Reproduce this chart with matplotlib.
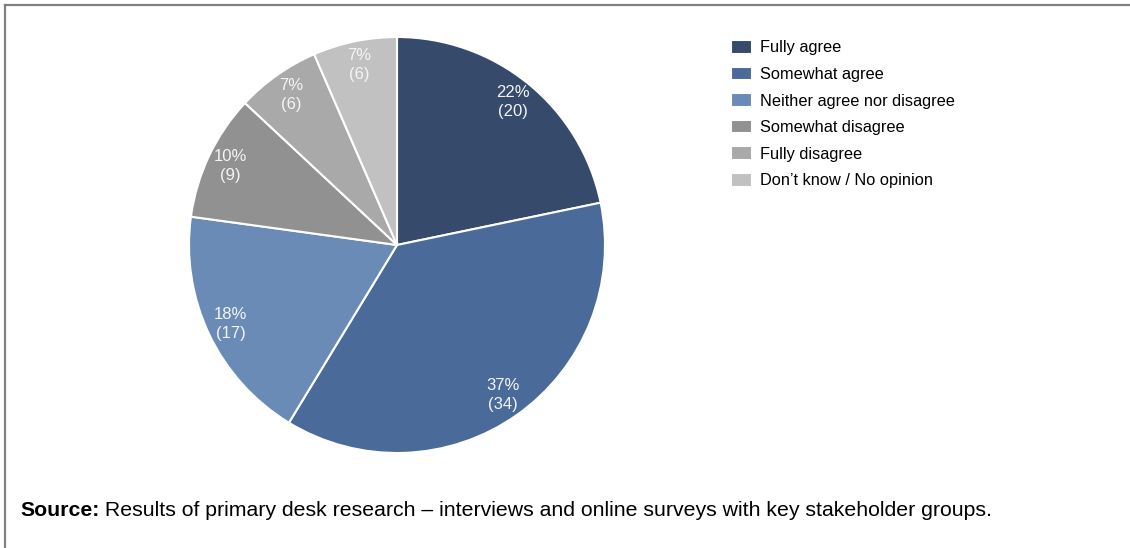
import matplotlib
matplotlib.use("Agg")
import matplotlib.pyplot as plt
from matplotlib.lines import Line2D

plt.rcParams['font.family'] = ['Liberation Sans', 'DejaVu Sans']

# survey answers
categories = ["Fully agree", "Somewhat agree", "Neither agree nor disagree",
              "Somewhat disagree", "Fully disagree", "Don\u2019t know / No opinion"]
counts = [20, 34, 17, 9, 6, 6]
percent_labels = ["22%", "37%", "18%", "10%", "7%", "7%"]
colors = ["#364b6c", "#4a6a9a", "#6b8bb7", "#919191", "#a9a9a9", "#c1c1c1"]
source_note = "Results of primary desk research \u2013 interviews and online surveys with key stakeholder groups."

W, H = 1130, 548
fig = plt.figure(figsize=(W / 100, H / 100), dpi=100)

# pie axes: centre (397, 245) px, radius 208 px
cx, cy, r = 397, 245, 208
ax = fig.add_axes([(cx - r) / W, (H - cy - r) / H, 2 * r / W, 2 * r / H])
labels = [f"{p}\n({c})" for p, c in zip(percent_labels, counts)]
wedges, texts = ax.pie(counts, colors=colors, startangle=90, counterclock=False,
                       labels=labels, labeldistance=0.885,
                       wedgeprops=dict(edgecolor="white", linewidth=1.5),
                       textprops=dict(color="#f4f4f4", fontsize=12, ha="center",
                                      va="center", linespacing=1.32))
ax.set_xlim(-1, 1)
ax.set_ylim(-1, 1)
ax.set_aspect("equal")

fig.legend(wedges, categories, loc="upper left",
           bbox_to_anchor=(731 / W, 1 - 40 / H), frameon=False,
           fontsize=11.8, handlelength=1.3, handleheight=0.9,
           handletextpad=0.5, labelspacing=0.68, borderpad=0, borderaxespad=0)

# border on top and left only
fig.add_artist(Line2D([4.5 / W, 4.5 / W], [0, 1 - 4.5 / H], color="#808080", lw=1.6,
                      transform=fig.transFigure))
fig.add_artist(Line2D([4.5 / W, 1], [1 - 4.5 / H, 1 - 4.5 / H], color="#808080", lw=1.6,
                      transform=fig.transFigure))

t1 = fig.text(20 / W, 1 - 516 / H, "Source:", fontsize=15.3, fontweight="bold",
              va="baseline", ha="left")
ax.annotate(" " + source_note, xy=(1, 0), xycoords=t1, va="bottom", ha="left",
            fontsize=15.3, annotation_clip=False)

fig.savefig("out.png", dpi=100)
